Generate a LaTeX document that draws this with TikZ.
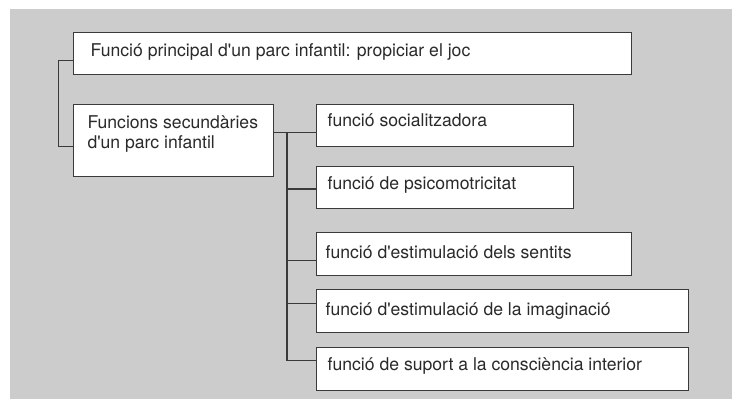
\documentclass[tikz,border=0pt]{standalone}
\usepackage{fontspec}
\setmainfont{TeX Gyre Heros}
\usetikzlibrary{calc}
\definecolor{bggray}{HTML}{CCCCCC}
\definecolor{linegray}{HTML}{3A3A3A}
\definecolor{txtgray}{HTML}{2A2A2A}
\newcommand{\ap}{\textquotesingle}
\tikzset{
  boxnode/.style={draw=linegray, line width=1.3pt, fill=white, rectangle, inner sep=0pt, anchor=north west},
  conn/.style={draw=linegray, line width=1.3pt},
  lbl/.style={anchor=base west, inner sep=0pt, text=txtgray, font=\fontsize{17.6}{20}\selectfont, align=left}
}
\begin{document}
\begin{tikzpicture}[x=1pt,y=-1pt]
\useasboundingbox (0,0) rectangle (732,399);
\fill[bggray] (10,9) rectangle (732,399);
% boxes
\node[boxnode, minimum width=558.5pt, minimum height=42pt] (b0) at (72.5,32) {};
\node[boxnode, minimum width=200pt, minimum height=72pt] (b1) at (72.5,104) {};
\node[boxnode, minimum width=257.5pt, minimum height=42.5pt] (r1) at (315.5,103.5) {};
\node[boxnode, minimum width=257.5pt, minimum height=42.5pt] (r2) at (315.5,165.5) {};
\node[boxnode, minimum width=315.5pt, minimum height=43pt] (r3) at (315.5,232) {};
\node[boxnode, minimum width=372.5pt, minimum height=43pt] (r4) at (315.5,289) {};
\node[boxnode, minimum width=372.5pt, minimum height=42.5pt] (r5) at (315.5,347) {};
% texts
\node[lbl] (t0) at ($(b0.north west)+(18,24.3)$) {Funció principal d\ap un parc infantil: propiciar el joc};
\node[lbl, anchor=north west, text depth=0pt] (t1) at ($(b1.north west)+(14.8,11)$) {Funcions secundàries\\d\ap un parc infantil};
\node[lbl] (t2) at ($(r1.north west)+(12,23.2)$) {funció socialitzadora};
\node[lbl] (t3) at ($(r2.north west)+(12,23.5)$) {funció de psicomotricitat};
\node[lbl] (t4) at ($(r3.north west)+(10,26.3)$) {funció d\ap estimulació dels sentits};
\node[lbl] (t5) at ($(r4.north west)+(10,26.7)$) {funció d\ap estimulació de la imaginació};
\node[lbl] (t6) at ($(r5.north west)+(12,23.5)$) {funció de suport a la consciència interior};
% connection points
\coordinate (tl) at (58.5,0);
\coordinate (tr) at (287,0);
\coordinate (p0) at ($(b0.north west)+(0,28.5)$);
\coordinate (p1) at ($(b1.north west)+(0,42.7)$);
\coordinate (q1) at ($(r1.north west)+(0,28.8)$);
\coordinate (q2) at ($(r2.north west)+(0,23.5)$);
\coordinate (q3) at ($(r3.north west)+(0,28.5)$);
\coordinate (q4) at ($(r4.north west)+(0,14.5)$);
\coordinate (q5) at ($(r5.north west)+(0,13.5)$);
% connectors
\draw[conn] (p0) -- (tl |- p0) -- (tl |- p1) -- (p1);
\draw[conn] (b1.east |- q1) -- (q1);
\draw[conn] (tr |- q1) -- (tr |- q5);
\draw[conn] (tr |- q2) -- (q2);
\draw[conn] (tr |- q3) -- (q3);
\draw[conn] (tr |- q4) -- (q4);
\draw[conn] (tr |- q5) -- (q5);
\end{tikzpicture}
\end{document}
